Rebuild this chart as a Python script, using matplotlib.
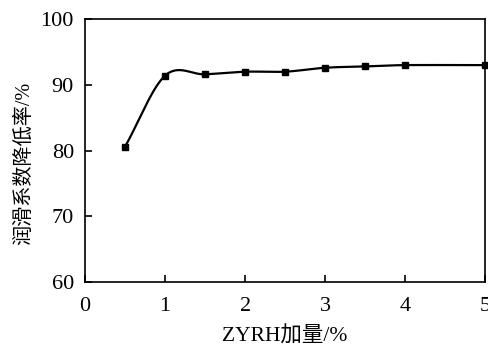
import matplotlib
matplotlib.use('Agg')
import matplotlib.pyplot as plt
import numpy as np

plt.rcParams['font.family'] = ['Liberation Serif', 'Noto Sans CJK SC']

# data
zyrh = [0.5, 1.0, 1.5, 2.0, 2.5, 3.0, 3.5, 4.0, 5.0]
reduction = [80.6, 91.4, 91.6, 92.0, 92.0, 92.6, 92.8, 93.0, 93.0]
x_ticks = [0, 1, 2, 3, 4, 5]
y_ticks = [60, 70, 80, 90, 100]


def smooth(xs, ys, n=30):
    # Catmull-Rom style smoothing like a spreadsheet "smoothed line"
    xs = np.asarray(xs, float)
    ys = np.asarray(ys, float)
    px = np.concatenate([[2 * xs[0] - xs[1]], xs, [2 * xs[-1] - xs[-2]]])
    py = np.concatenate([[2 * ys[0] - ys[1]], ys, [2 * ys[-1] - ys[-2]]])
    out_x, out_y = [], []
    for i in range(1, len(px) - 2):
        t = np.linspace(0, 1, n)
        for p, out in ((px, out_x), (py, out_y)):
            p0, p1, p2, p3 = p[i - 1], p[i], p[i + 1], p[i + 2]
            out.extend(0.5 * ((2 * p1) + (-p0 + p2) * t
                              + (2 * p0 - 5 * p1 + 4 * p2 - p3) * t ** 2
                              + (-p0 + 3 * p1 - 3 * p2 + p3) * t ** 3))
    return out_x, out_y


fig = plt.figure(figsize=(4.89, 3.47), dpi=100)
ax = fig.add_axes([0.174, 0.187, 0.818, 0.758])

sx, sy = smooth(zyrh, reduction)
ax.plot(sx, sy, color='black', lw=1.6)
ax.plot(zyrh, reduction, 's', color='black', ms=4.5, clip_on=False)

ax.set_xlim(0, 5)
ax.set_ylim(60, 100)
ax.set_xticks(x_ticks)
ax.set_yticks(y_ticks)
ax.tick_params(direction='in', length=5, width=1.2, labelsize=16)
ax.tick_params(axis='x', pad=11)
ax.tick_params(axis='y', pad=8)
for s in ax.spines.values():
    s.set_linewidth(1.2)

ax.set_xlabel('ZYRH加量/%', fontsize=15.5, labelpad=7)
ax.set_ylabel('润滑系数降低率/%', fontsize=14.5, labelpad=5, y=0.45)

fig.savefig('out.png', dpi=100)
